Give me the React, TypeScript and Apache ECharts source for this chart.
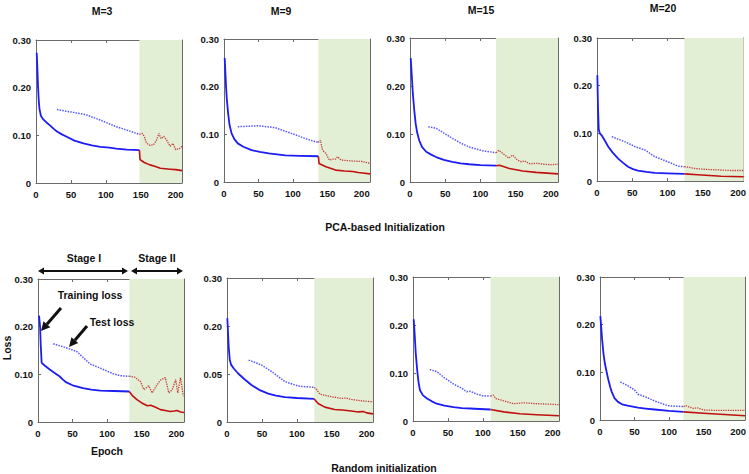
import React, { useEffect, useRef } from "react";
import * as echarts from "echarts";

// ---------- data ----------
const panelTitles = ["M=3", "M=9", "M=15", "M=20"];
const rowTitles = ["PCA-based Initialization", "Random initialization"];
const stageStarts = [148, 137, 122, 124, 132, 125, 111, 121];
const xMaxes = [209, 212, 210, 208, 211, 209, 209, 210];
const xTickInterval = 50;
const yTickLabels = ["0", "0.10", "0.20", "0.30"];
const yTickLabelsRandomM9 = ["0", "0.05", "0.20", "0.30"];

// PCA M=3
const pcaM3TrainI = [[1, 0.273], [2, 0.24], [3, 0.2], [4, 0.172], [5, 0.155], [7, 0.141], [10, 0.134], [15, 0.127], [20, 0.121], [25, 0.114], [30, 0.108], [37, 0.102], [44, 0.097], [55, 0.089], [68, 0.083], [80, 0.079], [92, 0.076], [105, 0.074], [115, 0.072], [130, 0.07], [148, 0.069]];
const pcaM3TrainII = [[148, 0.069], [149, 0.049], [155, 0.043], [163, 0.038], [170, 0.035], [178, 0.031], [185, 0.03], [192, 0.029], [200, 0.028], [209, 0.026]];
const pcaM3TestI = [[30, 0.154], [50, 0.149], [72, 0.143], [92, 0.132], [115, 0.118], [130, 0.111], [148, 0.102]];
const pcaM3TestII = [[148, 0.102], [152, 0.104], [155, 0.098], [158, 0.084], [163, 0.079], [168, 0.08], [172, 0.088], [176, 0.104], [179, 0.093], [183, 0.098], [187, 0.09], [192, 0.077], [196, 0.083], [200, 0.07], [205, 0.072], [209, 0.077]];

// PCA M=9
const pcaM9TrainI = [[1, 0.26], [2, 0.23], [3, 0.2], [4, 0.175], [6, 0.144], [8, 0.12], [11, 0.102], [15, 0.09], [20, 0.081], [28, 0.074], [40, 0.067], [52, 0.063], [65, 0.06], [77, 0.058], [89, 0.056], [110, 0.055], [137, 0.054]];
const pcaM9TrainII = [[137, 0.054], [138, 0.039], [148, 0.032], [162, 0.025], [175, 0.023], [187, 0.022], [195, 0.02], [201, 0.019], [212, 0.017]];
const pcaM9TestI = [[20, 0.116], [35, 0.117], [50, 0.118], [74, 0.114], [90, 0.106], [104, 0.099], [120, 0.09], [137, 0.083]];
const pcaM9TestII = [[137, 0.083], [140, 0.088], [143, 0.067], [148, 0.06], [153, 0.046], [158, 0.048], [162, 0.048], [165, 0.053], [170, 0.046], [187, 0.044], [201, 0.043], [212, 0.039]];

// PCA M=15
const pcaM15TrainI = [[1, 0.258], [2, 0.235], [3, 0.21], [4, 0.185], [6, 0.15], [8, 0.122], [10, 0.104], [13, 0.087], [17, 0.073], [23, 0.063], [30, 0.057], [37, 0.052], [48, 0.046], [60, 0.042], [72, 0.039], [84, 0.037], [100, 0.035], [122, 0.034]];
const pcaM15TrainII = [[122, 0.034], [127, 0.035], [141, 0.028], [160, 0.023], [179, 0.02], [210, 0.017]];
const pcaM15TestI = [[26, 0.115], [37, 0.112], [48, 0.102], [60, 0.091], [72, 0.081], [84, 0.073], [103, 0.065], [122, 0.061]];
const pcaM15TestII = [[122, 0.061], [126, 0.066], [133, 0.058], [140, 0.05], [146, 0.056], [152, 0.046], [158, 0.042], [162, 0.044], [170, 0.038], [180, 0.039], [190, 0.037], [200, 0.036], [210, 0.037]];

// PCA M=20
const pcaM20TrainI = [[0.5, 0.222], [1.5, 0.15], [2.5, 0.108], [4, 0.1], [7, 0.095], [11, 0.085], [16, 0.072], [22, 0.06], [30, 0.047], [37, 0.038], [44, 0.03], [51, 0.025], [58, 0.022], [70, 0.019], [82, 0.017], [100, 0.016], [124, 0.015]];
const pcaM20TrainII = [[124, 0.015], [143, 0.013], [176, 0.01], [208, 0.009]];
const pcaM20TestI = [[21, 0.093], [40, 0.082], [54, 0.072], [68, 0.065], [82, 0.051], [101, 0.04], [115, 0.031], [124, 0.03]];
const pcaM20TestII = [[124, 0.03], [129, 0.029], [140, 0.026], [148, 0.025], [160, 0.024], [176, 0.023], [190, 0.022], [208, 0.022]];

// Random M=3
const rndM3TrainI = [[1.5, 0.223], [3, 0.2], [4, 0.16], [5.3, 0.124], [10, 0.118], [17, 0.11], [24, 0.103], [31, 0.096], [36, 0.089], [41, 0.083], [50, 0.077], [65, 0.071], [77, 0.068], [90, 0.066], [110, 0.065], [132, 0.064]];
const rndM3TrainII = [[132, 0.064], [136, 0.056], [143, 0.047], [150, 0.04], [158, 0.034], [163, 0.035], [170, 0.031], [177, 0.026], [184, 0.024], [191, 0.022], [197, 0.023], [201, 0.024], [206, 0.021], [211, 0.02]];
const rndM3TestI = [[22, 0.164], [36, 0.158], [56, 0.148], [75, 0.122], [90, 0.113], [109, 0.101], [119, 0.097], [132, 0.096]];
const rndM3TestII = [[132, 0.096], [140, 0.094], [148, 0.085], [153, 0.068], [160, 0.076], [165, 0.061], [172, 0.078], [177, 0.088], [184, 0.093], [189, 0.061], [194, 0.068], [199, 0.089], [202, 0.061], [206, 0.093], [210, 0.054]];

// Random M=9
const rndM9TrainI = [[0.5, 0.216], [1.5, 0.185], [2.5, 0.155], [4, 0.129], [6, 0.119], [10, 0.111], [16, 0.101], [25, 0.089], [35, 0.077], [46, 0.067], [59, 0.059], [70, 0.055], [83, 0.052], [100, 0.05], [125, 0.048]];
const rndM9TrainII = [[125, 0.048], [127, 0.044], [131, 0.038], [140, 0.031], [154, 0.026], [165, 0.025], [178, 0.023], [188, 0.021], [195, 0.022], [200, 0.019], [209, 0.017]];
const rndM9TestI = [[31, 0.129], [49, 0.119], [64, 0.105], [83, 0.084], [102, 0.075], [125, 0.072]];
const rndM9TestII = [[125, 0.072], [127, 0.07], [133, 0.058], [145, 0.054], [164, 0.049], [170, 0.05], [178, 0.047], [193, 0.044], [209, 0.042]];

// Random M=15
const rndM15TrainI = [[1, 0.212], [2, 0.19], [3, 0.165], [4, 0.14], [6, 0.106], [8, 0.08], [10, 0.064], [14, 0.054], [20, 0.047], [27, 0.041], [34, 0.036], [45, 0.032], [58, 0.029], [70, 0.027], [82, 0.026], [95, 0.025], [111, 0.024]];
const rndM15TrainII = [[111, 0.024], [130, 0.019], [153, 0.015], [177, 0.013], [209, 0.011]];
const rndM15TestI = [[24, 0.107], [34, 0.103], [44, 0.091], [58, 0.077], [70, 0.068], [77, 0.061], [82, 0.062], [91, 0.056], [101, 0.052], [111, 0.052]];
const rndM15TestII = [[111, 0.052], [115, 0.054], [118, 0.047], [130, 0.042], [144, 0.036], [158, 0.038], [177, 0.036], [196, 0.035], [209, 0.034]];

// Random M=20
const rndM20TrainI = [[0.5, 0.218], [2, 0.19], [3, 0.17], [5, 0.14], [7, 0.119], [10, 0.098], [12, 0.085], [15, 0.068], [17, 0.059], [21, 0.046], [26, 0.038], [32, 0.033], [40, 0.03], [55, 0.026], [66, 0.024], [79, 0.022], [100, 0.019], [121, 0.017]];
const rndM20TrainII = [[121, 0.017], [150, 0.014], [174, 0.012], [210, 0.009]];
const rndM20TestI = [[29.5, 0.08], [40, 0.072], [50, 0.063], [55, 0.054], [65, 0.049], [79, 0.04], [98, 0.03], [121, 0.028]];
const rndM20TestII = [[121, 0.028], [124, 0.03], [136, 0.024], [140, 0.026], [150, 0.021], [174, 0.02], [210, 0.02]];

const panels = [
  { train: [pcaM3TrainI, pcaM3TrainII], test: [pcaM3TestI, pcaM3TestII], labels: yTickLabels },
  { train: [pcaM9TrainI, pcaM9TrainII], test: [pcaM9TestI, pcaM9TestII], labels: yTickLabels },
  { train: [pcaM15TrainI, pcaM15TrainII], test: [pcaM15TestI, pcaM15TestII], labels: yTickLabels },
  { train: [pcaM20TrainI, pcaM20TrainII], test: [pcaM20TestI, pcaM20TestII], labels: yTickLabels },
  { train: [rndM3TrainI, rndM3TrainII], test: [rndM3TestI, rndM3TestII], labels: yTickLabels },
  { train: [rndM9TrainI, rndM9TrainII], test: [rndM9TestI, rndM9TestII], labels: yTickLabelsRandomM9 },
  { train: [rndM15TrainI, rndM15TrainII], test: [rndM15TestI, rndM15TestII], labels: yTickLabels },
  { train: [rndM20TrainI, rndM20TrainII], test: [rndM20TestI, rndM20TestII], labels: yTickLabels },
];

// ---------- layout / style ----------
const gridBoxes = [
  { left: 36, top: 40, width: 146, height: 143 },
  { left: 224, top: 39, width: 146, height: 143 },
  { left: 410, top: 38, width: 148, height: 144 },
  { left: 597, top: 38, width: 147, height: 143 },
  { left: 38, top: 279, width: 146, height: 143 },
  { left: 227, top: 278, width: 146, height: 144 },
  { left: 413, top: 277, width: 146, height: 144 },
  { left: 600, top: 277, width: 147, height: 143 },
];
const titlePos = [[102, 11], [281, 11], [481, 10], [663, 8]];
const FONT = "Liberation Sans";
const frameColor = "#6a6a6a";
const blue = "#1c1cf5";
const blueLight = "#5555ff";
const red = "#c01010";
const redLight = "#c83a3a";
const green = "#e2efd4";

function txt(text: string, x: number, y: number, size = 10.5, extra: any = {}) {
  return {
    type: "text",
    x,
    y,
    z: 100,
    ...extra,
    style: {
      text,
      fill: "#111",
      fontFamily: FONT,
      fontWeight: "bold",
      fontSize: size,
      align: "center",
      verticalAlign: "middle",
    },
  };
}

function arrowHead(tip: number[], from: number[], len: number, half: number) {
  const dx = tip[0] - from[0];
  const dy = tip[1] - from[1];
  const L = Math.sqrt(dx * dx + dy * dy);
  const ux = dx / L;
  const uy = dy / L;
  const bx = tip[0] - ux * len;
  const by = tip[1] - uy * len;
  return {
    base: [bx, by],
    poly: {
      type: "polygon",
      z: 100,
      shape: { points: [tip, [bx - uy * half, by + ux * half], [bx + uy * half, by - ux * half]] },
      style: { fill: "#111" },
    },
  };
}

function arrow(from: number[], tip: number[], width: number, len: number, half: number, both = false) {
  const h1 = arrowHead(tip, from, len, half);
  const els: any[] = [];
  let start = from;
  if (both) {
    const h2 = arrowHead(from, tip, len, half);
    start = h2.base;
    els.push(h2.poly);
  }
  els.push({
    type: "line",
    z: 100,
    shape: { x1: start[0], y1: start[1], x2: h1.base[0], y2: h1.base[1] },
    style: { stroke: "#111", lineWidth: width },
  });
  els.push(h1.poly);
  return els;
}

export default function App() {
  const ref = useRef<HTMLDivElement>(null);
  useEffect(() => {
    if (!ref.current) return;
    const chart = echarts.init(ref.current, null, { renderer: "svg" });
    const axisLabelStyle = { fontSize: 9.5, fontWeight: "bold", color: "#111", fontFamily: FONT };
    const grid: any[] = [];
    const xAxis: any[] = [];
    const yAxis: any[] = [];
    const series: any[] = [];
    panels.forEach((p, i) => {
      grid.push({ ...gridBoxes[i], containLabel: false });
      const common = {
        gridIndex: i,
        type: "value",
        axisLine: { show: true, onZero: false, lineStyle: { color: frameColor, width: 1 } },
        axisTick: { show: true, inside: true, length: 3, lineStyle: { color: frameColor } },
        splitLine: { show: false },
      };
      xAxis.push({
        ...common,
        position: "bottom",
        min: 0,
        max: xMaxes[i],
        interval: xTickInterval,
        axisLabel: { ...axisLabelStyle, margin: 6, showMaxLabel: false },
      });
      xAxis.push({
        ...common,
        position: "top",
        min: 0,
        max: xMaxes[i],
        interval: xTickInterval,
        axisLabel: { show: false },
      });
      const labels = p.labels;
      yAxis.push({
        ...common,
        position: "left",
        min: 0,
        max: 0.3,
        interval: 0.1,
        axisLabel: {
          ...axisLabelStyle,
          margin: 5,
          formatter: (v: number) => labels[Math.round(v * 10)] ?? "",
        },
      });
      yAxis.push({
        ...common,
        position: "right",
        min: 0,
        max: 0.3,
        interval: 0.1,
        axisLabel: { show: false },
      });
      const xi = 2 * i;
      const yi = 2 * i;
      series.push({
        type: "line",
        xAxisIndex: xi,
        yAxisIndex: yi,
        data: p.train[0],
        showSymbol: false,
        symbol: "none",
        lineStyle: { color: blue, width: 1.8, join: "round" },
        z: 3,
        markArea: {
          silent: true,
          itemStyle: { color: green },
          data: [[{ xAxis: stageStarts[i] }, { xAxis: xMaxes[i] }]],
        },
      });
      series.push({
        type: "line",
        xAxisIndex: xi,
        yAxisIndex: yi,
        data: p.train[1],
        showSymbol: false,
        symbol: "none",
        lineStyle: { color: red, width: 1.6, join: "round" },
        z: 3,
      });
      series.push({
        type: "line",
        xAxisIndex: xi,
        yAxisIndex: yi,
        data: p.test[0],
        showSymbol: false,
        symbol: "none",
        lineStyle: { color: blueLight, width: 1.5, type: [1.5, 1.2] },
        z: 3,
      });
      series.push({
        type: "line",
        xAxisIndex: xi,
        yAxisIndex: yi,
        data: p.test[1],
        showSymbol: false,
        symbol: "none",
        lineStyle: { color: redLight, width: 1.3, type: [1.3, 1.1] },
        z: 3,
      });
    });

    const graphic: any[] = [];
    panelTitles.forEach((t, i) => graphic.push(txt(t, titlePos[i][0], titlePos[i][1], 10.5)));
    graphic.push(txt(rowTitles[0], 385, 227, 10.5));
    graphic.push(txt(rowTitles[1], 384, 468, 10.5));
    graphic.push(txt("Stage I", 84, 258, 10.5));
    graphic.push(txt("Stage II", 157, 258, 10.5));
    graphic.push(txt("Loss", 7, 348, 10.5, { rotation: Math.PI / 2 }));
    graphic.push(txt("Epoch", 107, 451, 10.5));
    graphic.push(txt("Training loss", 90, 295, 10.5));
    graphic.push(txt("Test loss", 112, 322, 10.5));
    graphic.push(...arrow([38, 271], [128, 271], 2, 6, 3.5, true));
    graphic.push(...arrow([131, 271], [183, 271], 2, 6, 3.5, true));
    graphic.push(...arrow([61, 308], [41, 331], 3, 9, 4.5));
    graphic.push(...arrow([87, 326], [69, 347], 3, 9, 4.5));

    chart.setOption({
      animation: false,
      backgroundColor: "#ffffff",
      grid,
      xAxis,
      yAxis,
      series,
      graphic,
    });
    return () => chart.dispose();
  }, []);
  return (
    <div
      ref={ref}
      style={{ position: "absolute", left: 0, top: 0, width: 749, height: 474, background: "#fff" }}
    />
  );
}
